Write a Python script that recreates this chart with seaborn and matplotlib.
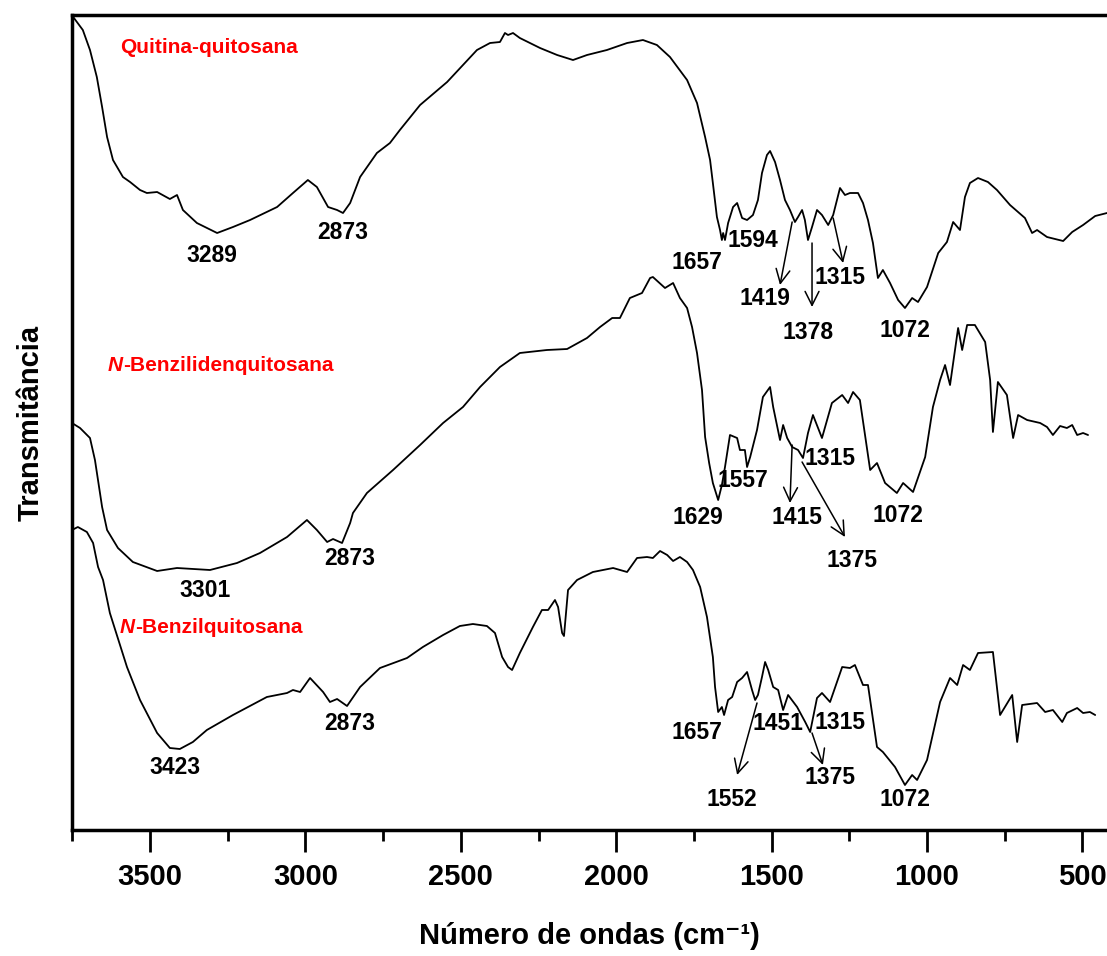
import matplotlib
matplotlib.use('Agg')
import pandas as pd
import matplotlib.pyplot as plt
import seaborn as sns
from matplotlib.ticker import MultipleLocator

# --- spectra: wavenumber (cm-1) vs transmittance (a.u., stacked) ---
wn_quitina = [3747, 3716, 3693, 3671, 3654, 3638, 3619, 3587, 3564, 3532,
              3510, 3477, 3436, 3413, 3394, 3349, 3284, 3233, 3178, 3091,
              3040, 2992, 2963, 2927, 2898, 2879, 2856, 2824, 2770, 2728,
              2696, 2631, 2544, 2448, 2406, 2374, 2358, 2348, 2332, 2310,
              2245, 2190, 2139, 2094, 2030, 1965, 1914, 1869, 1827, 1772,
              1740, 1714, 1698, 1689, 1676, 1666, 1660, 1656, 1650, 1640,
              1624, 1611, 1595, 1579, 1560, 1544, 1531, 1515, 1505, 1489,
              1473, 1457, 1441, 1425, 1415, 1402, 1393, 1383, 1370, 1354,
              1338, 1318, 1302, 1280, 1264, 1248, 1222, 1206, 1190, 1174,
              1158, 1142, 1119, 1093, 1071, 1048, 1029, 1000, 964, 936,
              916, 894, 878, 862, 836, 804, 775, 733, 685, 662,
              646, 614, 562, 533, 498, 459, 421]
t_quitina = [813, 800, 780, 753, 723, 693, 670, 653, 648, 640,
             637, 638, 631, 635, 620, 607, 597, 603, 610, 623,
             637, 650, 643, 623, 620, 617, 627, 653, 677, 687,
             700, 725, 748, 780, 787, 788, 797, 795, 797, 792,
             782, 775, 770, 775, 780, 787, 790, 785, 773, 750,
             727, 693, 670, 647, 613, 600, 590, 597, 590, 607,
             623, 627, 612, 610, 615, 630, 657, 675, 679, 668,
             650, 630, 620, 608, 613, 620, 610, 590, 603, 620,
             615, 605, 615, 642, 635, 637, 637, 627, 610, 587,
             552, 560, 547, 530, 522, 532, 528, 543, 577, 588,
             608, 600, 633, 647, 652, 648, 640, 625, 612, 597,
             600, 593, 589, 598, 605, 614, 617]

wn_benzilideno = [3751, 3725, 3693, 3677, 3654, 3638, 3603, 3555, 3477, 3413,
                  3307, 3220, 3146, 3059, 2995, 2963, 2930, 2911, 2882, 2856,
                  2847, 2802, 2718, 2631, 2557, 2493, 2438, 2374, 2310, 2223,
                  2158, 2094, 2052, 2013, 1988, 1956, 1917, 1891, 1882, 1843,
                  1817, 1795, 1772, 1756, 1740, 1724, 1714, 1701, 1689, 1672,
                  1660, 1650, 1634, 1611, 1602, 1586, 1579, 1569, 1547, 1528,
                  1505, 1495, 1473, 1463, 1450, 1434, 1415, 1399, 1383, 1367,
                  1338, 1306, 1273, 1254, 1238, 1216, 1183, 1161, 1135, 1097,
                  1077, 1045, 1006, 981, 958, 942, 926, 900, 887, 871,
                  846, 813, 797, 788, 772, 743, 723, 707, 678, 636,
                  614, 595, 572, 550, 533, 517, 498, 482]
t_benzilideno = [407, 402, 392, 370, 323, 300, 282, 268, 259, 262,
                 260, 267, 277, 293, 310, 300, 288, 291, 287, 307,
                 317, 337, 360, 385, 407, 423, 443, 463, 477, 480,
                 481, 492, 503, 512, 512, 532, 537, 552, 553, 542,
                 547, 532, 522, 503, 477, 440, 393, 367, 347, 330,
                 345, 363, 395, 392, 380, 380, 363, 373, 400, 433,
                 443, 423, 390, 405, 392, 383, 380, 372, 397, 415,
                 392, 427, 435, 427, 438, 430, 360, 367, 347, 337,
                 347, 338, 373, 423, 450, 465, 445, 502, 480, 505,
                 505, 488, 450, 398, 448, 435, 392, 415, 410, 407,
                 403, 395, 404, 402, 405, 395, 397, 395]

wn_benzil = [3751, 3732, 3703, 3683, 3667, 3651, 3629, 3574, 3532, 3477,
             3436, 3404, 3362, 3317, 3233, 3124, 3059, 3040, 3017, 2985,
             2943, 2921, 2898, 2866, 2824, 2760, 2673, 2622, 2557, 2503,
             2461, 2416, 2390, 2367, 2348, 2335, 2310, 2268, 2239, 2219,
             2197, 2187, 2174, 2168, 2155, 2126, 2075, 2010, 1965, 1933,
             1901, 1882, 1859, 1836, 1817, 1795, 1772, 1753, 1730, 1708,
             1689, 1682, 1672, 1660, 1653, 1640, 1627, 1611, 1595, 1579,
             1563, 1553, 1544, 1531, 1521, 1511, 1495, 1479, 1463, 1447,
             1418, 1392, 1376, 1354, 1338, 1312, 1273, 1248, 1232, 1206,
             1190, 1161, 1142, 1103, 1071, 1048, 1032, 1000, 958, 926,
             903, 884, 862, 836, 788, 765, 726, 710, 694, 646,
             620, 595, 565, 550, 517, 498, 476, 459]
t_benzil = [300, 303, 298, 287, 263, 250, 217, 163, 130, 97,
            82, 81, 88, 100, 115, 133, 137, 140, 138, 152,
            138, 128, 131, 124, 143, 162, 172, 183, 195, 204,
            206, 204, 197, 173, 163, 160, 177, 203, 220, 220,
            230, 223, 197, 194, 240, 250, 258, 262, 258, 272,
            273, 272, 279, 275, 269, 273, 268, 260, 243, 213,
            173, 143, 118, 123, 115, 130, 133, 148, 152, 158,
            140, 130, 135, 153, 168, 160, 143, 140, 120, 135,
            123, 108, 98, 132, 137, 128, 163, 162, 165, 145,
            145, 83, 78, 63, 45, 55, 50, 70, 128, 152,
            145, 165, 160, 177, 178, 115, 135, 88, 125, 127,
            118, 120, 108, 117, 122, 117, 118, 115]

# peak labels: (text, wavenumber, transmittance)
peak_labels = [
    ('3289', 3300, 575), ('2873', 2879, 598), ('1657', 1740, 568),
    ('1594', 1560, 590), ('1419', 1521, 532), ('1378', 1383, 498),
    ('1315', 1280, 553), ('1072', 1071, 500),
    ('3301', 3323, 240), ('2873', 2856, 272), ('1629', 1737, 313),
    ('1557', 1592, 350), ('1415', 1418, 313), ('1315', 1312, 372),
    ('1072', 1093, 315), ('1375', 1241, 270),
    ('3423', 3420, 62), ('2873', 2856, 107), ('1657', 1740, 98),
    ('1451', 1479, 107), ('1315', 1280, 108), ('1552', 1627, 30),
    ('1375', 1312, 52), ('1072', 1071, 30),
]
# arrows: (start wn, start T, end wn, end T)
peak_arrows = [
    (1434, 608, 1473, 545), (1370, 587, 1370, 523), (1302, 612, 1270, 567),
    (1434, 385, 1441, 327), (1402, 368, 1264, 293),
    (1547, 127, 1611, 55), (1370, 97, 1335, 65),
]

sns.set_style('white')
plt.rcParams['font.family'] = ['Liberation Sans', 'DejaVu Sans']
plt.rcParams['text.color'] = 'black'
plt.rcParams['axes.labelcolor'] = 'black'
plt.rcParams['xtick.color'] = 'black'

fig = plt.figure(figsize=(11.07, 9.56), dpi=100)
ax = fig.add_axes([0.065, 0.1318, 0.935, 0.8525])

for wn, t in [(wn_quitina, t_quitina), (wn_benzilideno, t_benzilideno), (wn_benzil, t_benzil)]:
    df = pd.DataFrame({'wn': wn, 'T': t})
    sns.lineplot(data=df, x='wn', y='T', color='black', linewidth=1.3, ax=ax, estimator=None)

for txt, x, y in peak_labels:
    ax.text(x, y, txt, ha='center', va='center', fontsize=16.5, fontweight='bold', color='black')

for x0, y0, x1, y1 in peak_arrows:
    ax.annotate('', xy=(x1, y1), xytext=(x0, y0),
                arrowprops=dict(arrowstyle='->,head_length=0.5,head_width=0.25',
                                lw=1.1, color='black', shrinkA=0, shrinkB=0,
                                mutation_scale=20))

# sample names in red
ax.text(3597, 783, 'Quitina-quitosana', color='red', fontsize=15,
        fontweight='bold', ha='left', va='center')
for x, y, rest in [(3635, 465, '-Benzilidenquitosana'), (3597, 203, '-Benzilquitosana')]:
    n = ax.text(x, y, 'N', color='red', fontsize=15, fontweight='bold',
                fontstyle='italic', ha='left', va='center')
    ax.annotate(rest, xy=(1, 0), xycoords=n, color='red', fontsize=15,
                fontweight='bold', ha='left', va='bottom')

ax.set_xlim(3751, 421)
ax.set_ylim(0, 815)
ax.set_xticks([3500, 3000, 2500, 2000, 1500, 1000, 500])
ax.xaxis.set_minor_locator(MultipleLocator(250))
ax.set_yticks([])
ax.tick_params(axis='x', which='major', direction='out', length=16, width=2,
               pad=8, labelsize=21, colors='black')
ax.tick_params(axis='x', which='minor', direction='out', length=8, width=2)
ax.tick_params(axis='x', which='both', bottom=True)
for lab in ax.get_xticklabels():
    lab.set_fontweight('bold')

ax.spines['right'].set_visible(False)
for side in ['left', 'bottom', 'top']:
    ax.spines[side].set_linewidth(2.5)
    ax.spines[side].set_color('black')

ax.set_xlabel('Número de ondas (cm\u207b\u00b9)', fontsize=21, fontweight='bold', labelpad=22)
ax.set_ylabel('Transmitância', fontsize=21, fontweight='bold', labelpad=20)

fig.savefig('out.png', dpi=100)
